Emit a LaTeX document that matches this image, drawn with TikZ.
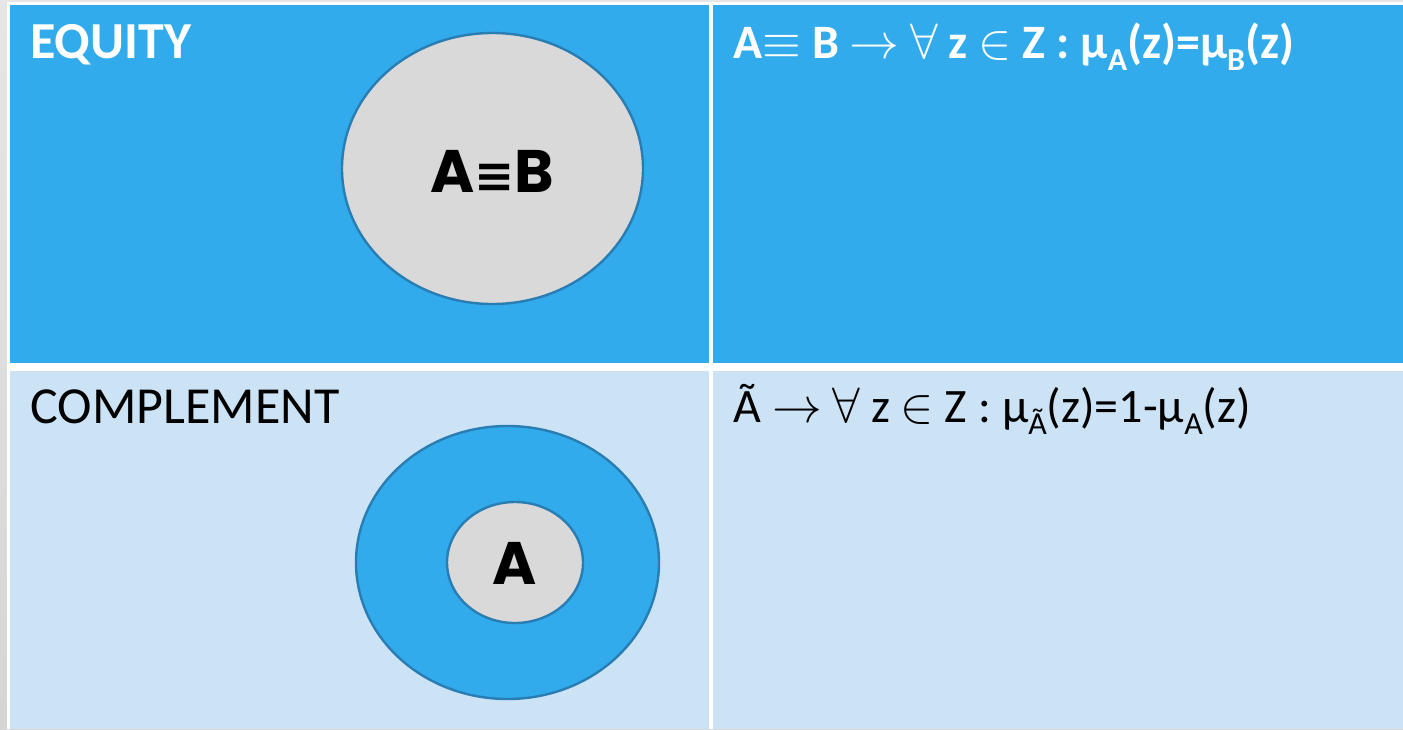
\documentclass[tikz,border=0pt]{standalone}
\usepackage{xcolor}
\definecolor{equity}{HTML}{31ABEB}
\definecolor{complement}{HTML}{CCE3F6}
\definecolor{setfill}{HTML}{D9D9D9}
\definecolor{setline}{HTML}{2A7DB3}
\definecolor{margin}{HTML}{E0E0E0}
\usepackage{fontspec}
\setmainfont{Carlito}
\newfontfamily\symfont{DejaVu Sans}
\newfontfamily\setfont{Poppins}
\usepackage{tikz}
\usetikzlibrary{positioning}
\newcommand{\low}[1]{\raisebox{-6pt}{\fontsize{16}{18}\selectfont #1}}

\begin{document}
\begin{tikzpicture}[x=0.5pt,y=-0.5pt,
  heading/.style={anchor=base west, inner sep=0pt, font=\fontsize{26}{30}\selectfont},
  rule/.style={anchor=base west, inner sep=0pt, font=\fontsize{24}{28}\selectfont},
  setname/.style={inner sep=0pt, font=\setfont\bfseries\fontsize{30}{36}\selectfont},
  setedge/.style={draw=setline, line width=1.2pt}]
  \useasboundingbox (0,0) rectangle (1403,729);
  \shade[top color=margin!80, bottom color=margin!95!black] (0,0) rectangle (1403,729);
  \fill[white] (7,2) rectangle (1403,729);
  % table cells
  \fill[equity] (10,5) rectangle (709,363);
  \fill[equity] (713,5) rectangle (1403,363);
  \fill[complement] (10,371) rectangle (709,729);
  \fill[complement] (713,371) rectangle (1403,729);
  % sets
  \draw[setedge, fill=setfill] (492.5,168.5) ellipse [x radius=150.5, y radius=135.5];
  \draw[setedge, fill=equity] (507.5,562.5) ellipse [x radius=151.5, y radius=136.5];
  \draw[setedge, fill=setfill] (515,562.5) ellipse [x radius=68, y radius=60.5];
  \node[setname] (ab) at (492,171) {A{\symfont\bfseries\fontsize{24}{26}\selectfont ≡}B};
  \node[setname] (a) at (515,563) {A};
  % labels
  \node[heading, text=white, font=\bfseries\fontsize{26}{30}\selectfont] (equ) at (30,58) {EQUITY};
  \node[heading] (comp) at (30,423) {COMPLEMENT};
  \node[rule, text=white, font=\bfseries\fontsize{24}{28}\selectfont] (equrule) at (733,58)
       {A$\equiv$ B $\rightarrow$ $\forall$ z $\in$ Z : μ\low{A}(z)=μ\low{B}(z)};
  \node[rule] (comprule) at (733,422)
       {Ã $\rightarrow$ $\forall$ z $\in$ Z : μ\low{Ã}(z)=1-μ\low{A}(z)};
\end{tikzpicture}
\end{document}
